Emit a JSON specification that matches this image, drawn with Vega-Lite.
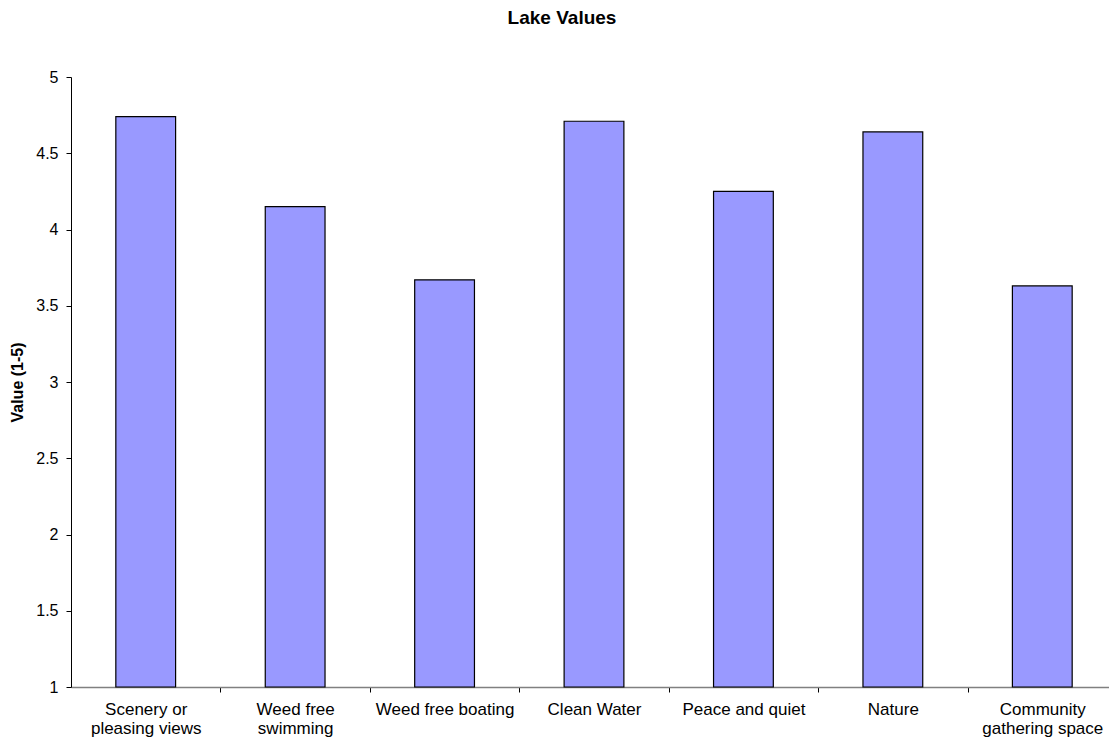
{
  "$schema": "https://vega.github.io/schema/vega-lite/v6.json",
  "width": 1038,
  "height": 610,
  "autosize": {"type": "none"},
  "padding": {"left": 71, "top": 77, "right": 0, "bottom": 55},
  "background": "white",
  "title": {
    "text": "Lake Values",
    "font": "Liberation Sans",
    "fontSize": 19,
    "fontWeight": "bold",
    "color": "black",
    "anchor": "middle",
    "dx": -28,
    "offset": 41
  },
  "config": {
    "view": {"stroke": null},
    "font": "Liberation Sans"
  },
  "data": {
    "values": [
      {"category": "Scenery or pleasing views", "value": 4.74},
      {"category": "Weed free swimming", "value": 4.15},
      {"category": "Weed free boating", "value": 3.67},
      {"category": "Clean Water", "value": 4.71},
      {"category": "Peace and quiet", "value": 4.25},
      {"category": "Nature", "value": 4.64},
      {"category": "Community gathering space", "value": 3.63}
    ]
  },
  "mark": {"type": "bar", "fill": "#9999FF", "stroke": "black", "strokeWidth": 1.2},
  "encoding": {
    "x": {
      "field": "category",
      "type": "nominal",
      "sort": null,
      "scale": {"paddingInner": 0.6, "paddingOuter": 0.3, "range": [0, 1046]},
      "axis": {
        "title": null,
        "labelAngle": 0,
        "labelFont": "Liberation Sans",
        "labelFontSize": 17,
        "labelColor": "black",
        "labelLineHeight": 19,
        "labelPadding": 9,
        "labelLimit": 0,
        "labelExpr": "datum.value == 'Scenery or pleasing views' ? ['Scenery or', 'pleasing views'] : datum.value == 'Weed free swimming' ? ['Weed free', 'swimming'] : datum.value == 'Community gathering space' ? ['Community', 'gathering space'] : datum.value",
        "tickOffset": 74.7,
        "labelOffset": -74.7,
        "tickSize": 5,
        "tickColor": "black",
        "domainColor": "#808080",
        "domainWidth": 1.5
      }
    },
    "y": {
      "field": "value",
      "type": "quantitative",
      "scale": {"domain": [1, 5], "zero": false, "nice": false},
      "axis": {
        "title": "Value (1-5)",
        "titleFont": "Liberation Sans",
        "titleFontSize": 16,
        "titleFontWeight": "bold",
        "titleColor": "black",
        "titlePadding": 10,
        "values": [1, 1.5, 2, 2.5, 3, 3.5, 4, 4.5, 5],
        "format": "~g",
        "labelFont": "Liberation Sans",
        "labelFontSize": 16,
        "labelColor": "black",
        "labelPadding": 8,
        "tickSize": 5,
        "tickColor": "black",
        "domainColor": "black",
        "grid": false
      }
    },
    "y2": {"datum": 1}
  }
}
